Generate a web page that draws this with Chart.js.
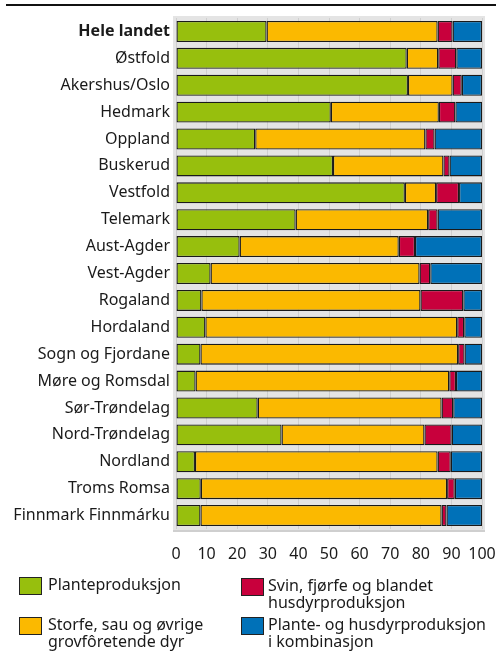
<!DOCTYPE html>
<html>
<head>
<meta charset="utf-8">
<script src="https://cdn.jsdelivr.net/npm/chart.js@4"></script>
<style>
  body { margin: 0; background: #fff; font-family: "Noto Sans", sans-serif; color: #1a1a1a; }
  #wrap { position: relative; width: 500px; height: 653px; }
  #topLine { position: absolute; left: 6px; top: 4px; width: 490px; height: 2px; background: #111; }
  .leg { position: absolute; font-size: 16px; line-height: 17px; }
  .sw { position: absolute; width: 21px; height: 16px; border: 1px solid #222; }
  .lt { position: absolute; white-space: nowrap; }
</style>
</head>
<body>
<div id="wrap">
  <canvas id="chart" width="500" height="653"></canvas>
  <div id="topLine"></div>
  <div id="legend"></div>
</div>
<script>
const categories = ['Hele landet', 'Østfold', 'Akershus/Oslo', 'Hedmark', 'Oppland', 'Buskerud', 'Vestfold',
  'Telemark', 'Aust-Agder', 'Vest-Agder', 'Rogaland', 'Hordaland', 'Sogn og Fjordane', 'Møre og Romsdal',
  'Sør-Trøndelag', 'Nord-Trøndelag', 'Nordland', 'Troms Romsa', 'Finnmark Finnmárku'];

const planteproduksjon = [29.6, 75.4, 75.8, 50.6, 25.9, 51.3, 74.8, 39.1, 20.8, 11.3, 8.3, 9.6, 8.0, 6.4, 26.7, 34.5, 6.2, 8.1, 8.0];
const storfe = [55.9, 10.3, 14.6, 35.3, 55.6, 36.1, 10.2, 43.3, 52.0, 68.3, 71.6, 82.3, 84.2, 82.9, 60.1, 46.7, 79.3, 80.5, 78.8];
const svin = [4.9, 5.9, 3.0, 5.4, 3.0, 2.0, 7.5, 3.1, 5.3, 3.5, 14.0, 2.3, 2.1, 2.2, 3.8, 8.9, 4.3, 2.5, 1.6];
const kombinasjon = [9.6, 8.4, 6.6, 8.7, 15.5, 10.6, 7.5, 14.5, 21.9, 16.9, 6.1, 5.8, 5.7, 8.5, 9.4, 9.9, 10.2, 8.9, 11.6];

const xTicks = [0, 10, 20, 30, 40, 50, 60, 70, 80, 90, 100];

const seriesNames = ['Planteproduksjon', 'Storfe, sau og øvrige\ngrovfôretende dyr',
  'Svin, fjørfe og blandet\nhusdyrproduksjon', 'Plante- og husdyrproduksjon\ni kombinasjon'];
const colors = ['#97bf0d', '#fbb900', '#c8003c', '#0071b8'];

// grey plot background behind the bars
const plotBackground = {
  id: 'plotBackground',
  beforeDraw: (chart) => {
    const a = chart.chartArea;
    const c = chart.ctx;
    c.save();
    c.fillStyle = '#e4e4e4';
    c.fillRect(a.left - 3, a.top - 2, a.right - a.left + 6, a.bottom - a.top + 4);
    c.fillStyle = '#cfcfcf';
    c.fillRect(a.left - 3, a.bottom + 1, a.right - a.left + 6, 2);
    c.restore();
  }
};

const allSeries = [planteproduksjon, storfe, svin, kombinasjon];
const datasets = allSeries.map((values, i) => ({
  label: seriesNames[i],
  data: values,
  backgroundColor: colors[i],
  borderColor: '#1a1a1a',
  borderWidth: 1.3,
  borderSkipped: false,
  barPercentage: 0.78,
  categoryPercentage: 1
}));

const ctx = document.getElementById('chart');
new Chart(ctx, {
  type: 'bar',
  data: { labels: categories, datasets: datasets },
  options: {
    indexAxis: 'y',
    responsive: false,
    animation: false,
    layout: { padding: { top: 18, right: 18, bottom: 84, left: 0 } },
    plugins: { legend: { display: false }, tooltip: { enabled: false } },
    scales: {
      x: {
        stacked: true,
        min: 0,
        max: 100,
        afterBuildTicks: (scale) => { scale.ticks = xTicks.map(v => ({ value: v })); },
        afterFit: (scale) => {
          scale.height = 40;
          scale.paddingLeft = 0;
          scale.paddingRight = 0;
        },
        grid: { color: '#cfcfcf', lineWidth: 1, drawTicks: false },
        border: { display: false },
        ticks: { padding: 16, color: '#1a1a1a', font: { family: 'Noto Sans', size: 16 }, maxRotation: 0, autoSkip: false }
      },
      y: {
        stacked: true,
        afterFit: (scale) => { scale.width = 176; },
        grid: { display: false, drawTicks: false },
        border: { display: false },
        ticks: {
          padding: 6,
          color: '#1a1a1a',
          font: (c) => ({ family: 'Noto Sans', size: 16, weight: c.index === 0 ? 'bold' : 'normal' })
        }
      }
    }
  },
  plugins: [plotBackground]
});

// legend in two columns, built from the series names
const legendPos = [[19, 577], [19, 617], [241, 578], [241, 617]];
const legend = document.getElementById('legend');
seriesNames.forEach((name, i) => {
  const [x, y] = legendPos[i];
  const item = document.createElement('div');
  item.className = 'leg';
  item.style.left = x + 'px';
  item.style.top = y + 'px';
  item.innerHTML = `<div class="sw" style="left:0;top:0;background:${colors[i]}"></div>` +
    `<div class="lt" style="left:${i < 2 ? 29 : 27}px;top:-1px">${name.replace('\n', '<br>')}</div>`;
  legend.appendChild(item);
});
</script>
</body>
</html>
